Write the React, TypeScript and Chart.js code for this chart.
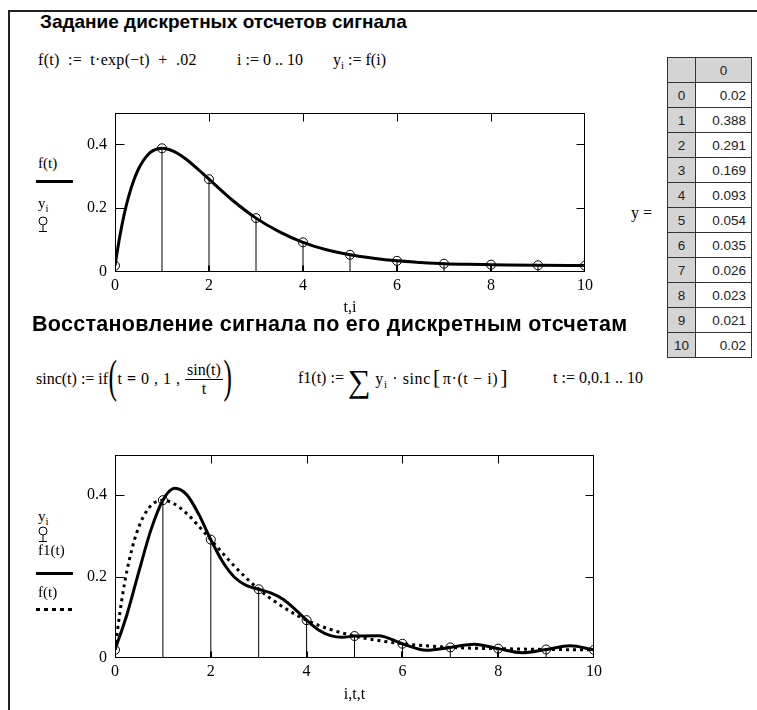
import React, { useEffect, useRef } from 'react';
import { Chart, registerables } from 'chart.js';

Chart.register(...registerables);

// ---- data ----
const SAMPLE_I = [0, 1, 2, 3, 4, 5, 6, 7, 8, 9, 10];
const SAMPLE_Y = [0.02, 0.388, 0.291, 0.169, 0.093, 0.054, 0.035, 0.026, 0.023, 0.021, 0.02];

const T_F = [0, 0.1, 0.2, 0.3, 0.4, 0.5, 0.6, 0.7, 0.8, 0.9, 1, 1.25, 1.5, 1.75, 2, 2.5, 3, 3.5, 4, 4.5, 5, 5.5, 6, 6.5, 7, 7.5, 8, 9, 10];
const F_VALS = [0.02, 0.11, 0.184, 0.242, 0.288, 0.323, 0.349, 0.368, 0.38, 0.386, 0.388, 0.378, 0.355, 0.324, 0.291, 0.225, 0.169, 0.126, 0.093, 0.07, 0.054, 0.043, 0.035, 0.03, 0.026, 0.024, 0.023, 0.021, 0.02];

const T_F1 = [0, 0.25, 0.5, 0.75, 1, 1.25, 1.5, 1.75, 2, 2.25, 2.5, 2.75, 3, 3.25, 3.5, 3.75, 4, 4.25, 4.5, 4.75, 5, 5.5, 6, 6.5, 7, 7.5, 8, 8.5, 9, 9.5, 10];
const F1_VALS = [0.02, 0.107, 0.213, 0.315, 0.388, 0.417, 0.401, 0.353, 0.291, 0.236, 0.198, 0.178, 0.169, 0.16, 0.145, 0.121, 0.093, 0.069, 0.055, 0.051, 0.054, 0.055, 0.035, 0.019, 0.026, 0.034, 0.023, 0.013, 0.021, 0.03, 0.02];

const X_TICKS = [0, 2, 4, 6, 8, 10];
const Y_TICKS = [0, 0.2, 0.4];
const X_MIN = 0;
const X_MAX = 10;
const Y_MIN = 0;
const Y_MAX = 0.5;

const SERIF = '"Liberation Serif", "Times New Roman", serif';
const SANS = '"Liberation Sans", Arial, sans-serif';

function pts(xs: number[], ys: number[]) {
  return xs.map((x, k) => ({ x, y: ys[k] }));
}
function stems(xs: number[], ys: number[]) {
  const out: any[] = [];
  xs.forEach((x, k) => {
    out.push({ x, y: 0 }, { x, y: ys[k] }, { x, y: null });
  });
  return out;
}

const framePlugin = {
  id: 'mathcadFrame',
  afterDatasetsDraw(chart: any) {
    const { ctx, chartArea, scales } = chart;
    const { left, right, top, bottom } = chartArea;
    const xs = scales.x;
    const ys = scales.y;
    ctx.save();
    ctx.strokeStyle = '#000';
    ctx.lineWidth = 1;
    const L = Math.round(left) + 0.5;
    const R = Math.round(right) - 0.5;
    const T = Math.round(top) + 0.5;
    const B = Math.round(bottom) - 0.5;
    ctx.strokeRect(L, T, R - L, B - T);
    ctx.beginPath();
    X_TICKS.forEach((v) => {
      if (v <= X_MIN || v >= X_MAX) return;
      const p = Math.round(xs.getPixelForValue(v)) + 0.5;
      ctx.moveTo(p, T);
      ctx.lineTo(p, T + 8);
    });
    Y_TICKS.forEach((v) => {
      if (v <= Y_MIN || v >= Y_MAX) return;
      const p = Math.round(ys.getPixelForValue(v)) + 0.5;
      ctx.moveTo(L, p);
      ctx.lineTo(L + 9, p);
      ctx.moveTo(R, p);
      ctx.lineTo(R - 8, p);
    });
    ctx.stroke();
    ctx.lineWidth = 2;
    ctx.beginPath();
    X_TICKS.forEach((v) => {
      if (v <= X_MIN || v >= X_MAX) return;
      const p = Math.round(xs.getPixelForValue(v));
      ctx.moveTo(p, B);
      ctx.lineTo(p, B - 6);
    });
    ctx.stroke();
    ctx.restore();
  },
};

type PlotProps = {
  left: number;
  top: number;
  width: number;
  height: number;
  padTop: number;
  padRight: number;
  yWidth: number;
  xHeight: number;
  xTitle: string;
  titlePad: number;
  makeDatasets: () => any[];
};

function Plot(p: PlotProps) {
  const ref = useRef<HTMLCanvasElement>(null);
  useEffect(() => {
    const tickFont = { family: SERIF, size: 16 };
    const chart = new Chart(ref.current as HTMLCanvasElement, {
      type: 'line',
      data: { datasets: p.makeDatasets() },
      options: {
        responsive: false,
        animation: false,
        events: [],
        layout: { padding: { top: p.padTop, right: p.padRight, left: 0, bottom: 0 } },
        plugins: { legend: { display: false }, tooltip: { enabled: false } },
        scales: {
          x: {
            type: 'linear',
            min: X_MIN,
            max: X_MAX,
            afterBuildTicks: (s: any) => {
              s.ticks = X_TICKS.map((v) => ({ value: v }));
            },
            afterFit: (s: any) => {
              s.height = p.xHeight;
            },
            grid: { display: false, drawTicks: false },
            border: { display: false },
            ticks: {
              color: '#000',
              font: tickFont,
              padding: 4,
              maxRotation: 0,
              autoSkip: false,
              callback: (v: any) => String(v),
            },
            title: {
              display: true,
              text: p.xTitle,
              color: '#000',
              font: tickFont,
              padding: { top: 0, bottom: p.titlePad },
            },
          },
          y: {
            type: 'linear',
            min: Y_MIN,
            max: Y_MAX,
            afterBuildTicks: (s: any) => {
              s.ticks = Y_TICKS.map((v) => ({ value: v }));
            },
            afterFit: (s: any) => {
              s.width = p.yWidth;
            },
            grid: { display: false, drawTicks: false },
            border: { display: false },
            ticks: {
              color: '#000',
              font: tickFont,
              padding: 8,
              autoSkip: false,
              callback: (v: any) => String(v),
            },
          },
        },
      } as any,
      plugins: [framePlugin],
    });
    return () => chart.destroy();
  }, []);
  return (
    <canvas
      ref={ref}
      width={p.width}
      height={p.height}
      style={{ position: 'absolute', left: p.left, top: p.top, width: p.width, height: p.height }}
    />
  );
}

const stemDataset = () => ({
  label: 'stems',
  data: stems(SAMPLE_I, SAMPLE_Y),
  borderColor: '#000',
  borderWidth: 1,
  pointRadius: 0,
  spanGaps: false,
  tension: 0,
});
const markerDataset = () => ({
  label: 'y_i',
  data: pts(SAMPLE_I, SAMPLE_Y),
  showLine: false,
  pointRadius: 4.5,
  pointBorderWidth: 1,
  pointBorderColor: '#000',
  pointBackgroundColor: 'rgba(0,0,0,0)',
});
const fDataset = (dotted: boolean) => ({
  label: 'f(t)',
  data: pts(T_F, F_VALS),
  borderColor: '#000',
  borderWidth: 3,
  pointRadius: 0,
  tension: 0.4,
  cubicInterpolationMode: 'monotone',
  borderDash: dotted ? [3, 4] : [],
  borderCapStyle: 'butt',
});
const f1Dataset = () => ({
  label: 'f1(t)',
  data: pts(T_F1, F1_VALS),
  borderColor: '#000',
  borderWidth: 3,
  pointRadius: 0,
  tension: 0.4,
  cubicInterpolationMode: 'monotone',
});

const abs = (left: number, top: number, extra: React.CSSProperties = {}): React.CSSProperties => ({
  position: 'absolute',
  left,
  top,
  whiteSpace: 'nowrap',
  ...extra,
});

const serifText: React.CSSProperties = { fontFamily: SERIF, fontSize: 16, lineHeight: '18px', color: '#000' };
const legendText: React.CSSProperties = { fontFamily: SERIF, fontSize: 15, lineHeight: '18px', color: '#000' };
const titleText: React.CSSProperties = { fontFamily: SANS, fontWeight: 'bold', lineHeight: '22px', color: '#000' };

function Sub({ children }: { children: React.ReactNode }) {
  return <span style={{ fontSize: 11, position: 'relative', top: 4 }}>{children}</span>;
}

function StemSymbol({ left, top }: { left: number; top: number }) {
  return (
    <svg width={14} height={16} style={{ position: 'absolute', left, top }}>
      <circle cx={7} cy={5} r={4} fill="none" stroke="#000" strokeWidth={1} />
      <line x1={7} y1={9} x2={7} y2={15} stroke="#000" strokeWidth={1} />
      <line x1={3} y1={15.5} x2={11} y2={15.5} stroke="#000" strokeWidth={1} />
    </svg>
  );
}

function Table() {
  const rowH = 25;
  const cell: React.CSSProperties = {
    boxSizing: 'border-box',
    height: rowH,
    border: '1px solid #333',
    fontFamily: SANS,
    fontSize: 13.5,
    lineHeight: `${rowH - 2}px`,
    color: '#222',
    padding: 0,
  };
  return (
    <table
      style={{
        position: 'absolute',
        left: 667,
        top: 57,
        borderCollapse: 'collapse',
        tableLayout: 'fixed',
        width: 84,
      }}
    >
      <tbody>
        <tr>
          <td style={{ ...cell, width: 28, background: '#d4d4d4' }}></td>
          <td style={{ ...cell, width: 56, background: '#d4d4d4', textAlign: 'center' }}>0</td>
        </tr>
        {SAMPLE_Y.map((v, k) => (
          <tr key={k}>
            <td style={{ ...cell, background: '#d4d4d4', textAlign: 'center' }}>{SAMPLE_I[k]}</td>
            <td style={{ ...cell, background: '#fff', textAlign: 'right', paddingRight: 5 }}>{String(v)}</td>
          </tr>
        ))}
      </tbody>
    </table>
  );
}

const bigParen: React.CSSProperties = {
  fontSize: 46,
  lineHeight: '44px',
  fontWeight: 100,
  display: 'inline-block',
  transform: 'scaleX(0.55)',
  margin: '0 -3px',
  position: 'relative',
  top: -2,
};

export default function App() {
  return (
    <div
      style={{
        position: 'absolute',
        left: 0,
        top: 0,
        width: 757,
        height: 710,
        background: '#fff',
        overflow: 'hidden',
      }}
    >
      {/* worksheet border */}
      <div style={abs(8, 10, { width: 749, height: 2, background: '#222' })} />
      <div style={abs(8, 10, { width: 2, height: 700, background: '#222' })} />

      {/* section 1 */}
      <div style={abs(40, 11, { ...titleText, fontSize: 19 })}>Задание дискретных отсчетов сигнала</div>
      <div style={abs(38, 51, { ...serifText, wordSpacing: 4, letterSpacing: 0.3 })}>f(t) := t·exp(−t) + .02</div>
      <div style={abs(237, 51, serifText)}>i := 0 .. 10</div>
      <div style={abs(333, 51, serifText)}>
        y<Sub>i</Sub> := f(i)
      </div>

      <Plot
        left={60}
        top={95}
        width={545}
        height={228}
        padTop={12}
        padRight={20}
        yWidth={55}
        xHeight={51}
        xTitle="t,i"
        titlePad={6}
        makeDatasets={() => [fDataset(false), stemDataset(), markerDataset()]}
      />

      <div style={abs(38, 154, legendText)}>f(t)</div>
      <div style={abs(36, 180, { width: 37, height: 3, background: '#000' })} />
      <div style={abs(38, 194, legendText)}>
        y<Sub>i</Sub>
      </div>
      <StemSymbol left={36} top={216} />

      <div style={abs(631, 204, serifText)}>y =</div>
      <Table />

      {/* section 2 */}
      <div style={abs(32, 313, { ...titleText, fontSize: 21.5, letterSpacing: 0.3 })}>
        Восстановление сигнала по его дискретным отсчетам
      </div>

      <div style={abs(36, 357, { ...serifText, display: 'flex', alignItems: 'center', height: 44 })}>
        <span>sinc(t) := if</span>
        <span style={bigParen}>(</span>
        <span style={{ letterSpacing: 0.5 }}>
          t <b>=</b> 0 , 1 ,&nbsp;
        </span>
        <span style={{ display: 'inline-flex', flexDirection: 'column', alignItems: 'center', lineHeight: '18px' }}>
          <span style={{ padding: '0 2px' }}>sin(t)</span>
          <span style={{ borderTop: '1px solid #000', alignSelf: 'stretch', textAlign: 'center' }}>t</span>
        </span>
        <span style={bigParen}>)</span>
      </div>

      <div style={abs(298, 358, { ...serifText, display: 'flex', alignItems: 'center', height: 40 })}>
        <span>f1(t) :=&nbsp;</span>
        <span style={{ fontSize: 32, lineHeight: '32px', position: 'relative', top: 3 }}>∑</span>
        <span style={{ letterSpacing: 0.6 }}>
          &nbsp;y<Sub>i</Sub>&nbsp;·&nbsp;sinc<span style={{ fontSize: 22, margin: '0 2px' }}>[</span>π·(t − i)
          <span style={{ fontSize: 22, margin: '0 2px' }}>]</span>
        </span>
      </div>

      <div style={abs(553, 369, serifText)}>t := 0,0.1 .. 10</div>

      <Plot
        left={60}
        top={437}
        width={554}
        height={271}
        padTop={12}
        padRight={20}
        yWidth={55}
        xHeight={50}
        xTitle="i,t,t"
        titlePad={4}
        makeDatasets={() => [stemDataset(), markerDataset(), f1Dataset(), fDataset(true)]}
      />

      <div style={abs(38, 507, legendText)}>
        y<Sub>i</Sub>
      </div>
      <StemSymbol left={36} top={526} />
      <div style={abs(38, 541, legendText)}>f1(t)</div>
      <div style={abs(36, 572, { width: 37, height: 3, background: '#000' })} />
      <div style={abs(38, 583, legendText)}>f(t)</div>
      <svg width={40} height={4} style={{ position: 'absolute', left: 36, top: 608 }}>
        <line x1={0} y1={1.5} x2={40} y2={1.5} stroke="#000" strokeWidth={3} strokeDasharray="4 4" />
      </svg>
    </div>
  );
}
